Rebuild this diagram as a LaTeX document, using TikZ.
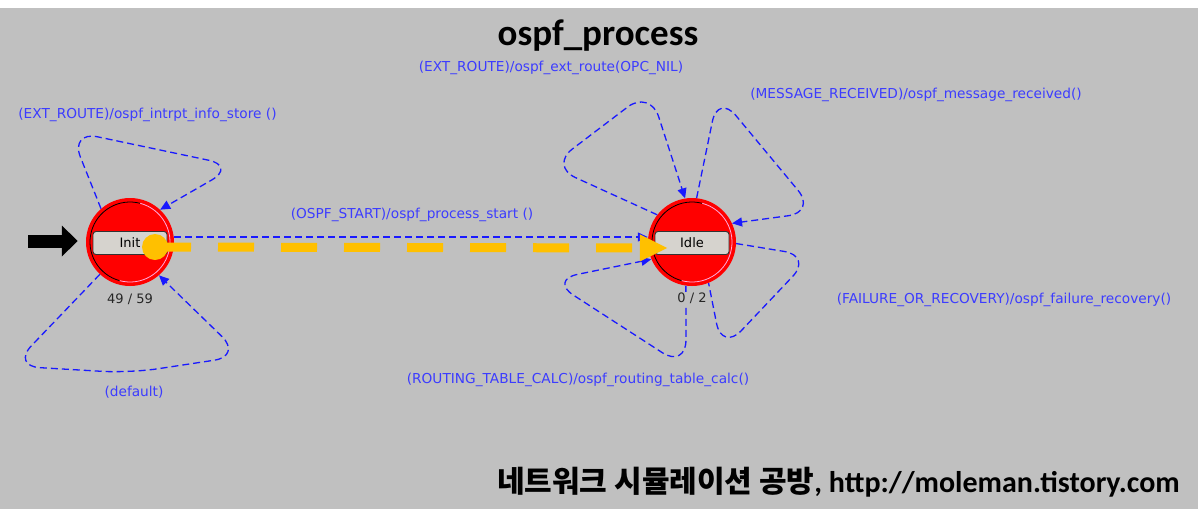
\documentclass[tikz,border=0pt]{standalone}
\usepackage{fontspec}
\setmainfont{DejaVu Sans}
\newfontfamily\carl{Carlito}
\newfontfamily\kr{Noto Sans CJK KR}
\usetikzlibrary{arrows.meta}
\definecolor{bg}{RGB}{192,192,192}
\definecolor{lblue}{RGB}{60,60,255}
\definecolor{tblue}{RGB}{25,25,255}
\definecolor{gold}{RGB}{255,192,0}
\definecolor{boxfill}{RGB}{214,211,206}
\definecolor{rimpink}{RGB}{255,170,220}
\begin{document}
\begin{tikzpicture}[x=1pt,y=-1pt,
  fsmstate/.style={circle,fill=red,minimum size=88pt,inner sep=0pt},
  namebox/.style={rectangle,rounded corners=3pt,draw=black!80,line width=0.9pt,fill=boxfill,minimum width=74pt,minimum height=23pt,inner sep=0pt,font=\fontsize{13}{15}\selectfont},
  countlbl/.style={font=\fontsize{13}{15}\selectfont,text=black!85},
  trans/.style={draw=tblue,line width=1.3pt,dash pattern=on 7pt off 4pt,rounded corners=28pt,-{Triangle[length=10pt,width=9pt]}},
  transnoarrow/.style={draw=tblue,line width=1.3pt,dash pattern=on 7pt off 4pt,rounded corners=28pt},
  tlbl/.style={text=lblue,font=\fontsize{13.7}{15}\selectfont,inner sep=0pt}
]
\useasboundingbox (0,0) rectangle (1198,517);
\fill[white] (0,0) rectangle (1198,517);
\fill[bg] (0,8) rectangle (1198,509);

% states
\node[fsmstate] (init) at (130,242) {};
\node[fsmstate] (idle) at (692,242) {};
\foreach \s in {init,idle}{
  \draw[black,line width=0.8pt] ([shift={(75:40pt)}]\s.center) arc[start angle=75,end angle=255,radius=40pt];
  \draw[rimpink,line width=0.8pt] ([shift={(255:40pt)}]\s.center) arc[start angle=255,end angle=435,radius=40pt];
}
\node[namebox] (initbox) at (130,243) {Init};
\node[namebox] (idlebox) at (692,243) {Idle};
\node[countlbl] (initcnt) at (130,299) {49 / 59};

% start arrow
\coordinate (startpt) at (28,241);
\draw[black,line width=13pt,-{Triangle[length=16pt,width=30pt]}] (startpt) -- ([xshift=-8pt,yshift=1pt]init.west);

% loops on Init
\draw[trans] (init.131) -- (70,131) -- (236,166) -- (init.47);
\draw[trans] (init.227) -- (12,366) -- (130,373) -- (242,356) -- (init.311);

% loops on Idle
\draw[trans] (idle.142) -- (550,166) -- (650,90) -- (idle.99);
\draw[trans] (idle.84) -- (718,94) -- (816,212) -- (idle.25);
\draw[transnoarrow] (idle.-2) -- (812,256) -- (722,351) -- (idle.-68);
\draw[trans] (idle.-98) -- (686,368) -- (550,280) -- (idle.203);

% straight transition
\draw[trans] ([yshift=5pt]init.east) -- ([yshift=5pt]idle.west);

% yellow default path
\coordinate (ydot) at (155,247);
\draw[gold,line width=9pt,dash pattern=on 36pt off 27pt,-{Triangle[length=28pt,width=25pt]}] (ydot) -- ([xshift=20pt,yshift=-6pt]idle.west);
\fill[gold] (ydot) circle[radius=13pt];

\node[countlbl,fill=bg,inner sep=1pt] (idlecnt) at (692,298) {0 / 2};

% labels
\node[tlbl] (l1) at (147.5,115) {(EXT\_ROUTE)/ospf\_intrpt\_info\_store ()};
\node[tlbl] (l2) at (134,392) {(default)};
\node[tlbl] (l3) at (412,215) {(OSPF\_START)/ospf\_process\_start ()};
\node[tlbl] (l4) at (551,68) {(EXT\_ROUTE)/ospf\_ext\_route(OPC\_NIL)};
\node[tlbl] (l5) at (916,95) {(MESSAGE\_RECEIVED)/ospf\_message\_received()};
\node[tlbl] (l6) at (1004,300) {(FAILURE\_OR\_RECOVERY)/ospf\_failure\_recovery()};
\node[tlbl] (l7) at (578,380) {(ROUTING\_TABLE\_CALC)/ospf\_routing\_table\_calc()};

% title and footer
\node[font=\carl\bfseries\fontsize{37}{40}\selectfont,inner sep=0pt] (title) at (598,36) {ospf\_process};
\node[anchor=east,inner sep=0pt] (footer) at (1180,482) {{\kr\bfseries\fontsize{30}{33}\selectfont 네트워크 시뮬레이션 공방}{\carl\bfseries\fontsize{30}{33}\selectfont, http://moleman.tistory.com}};
\end{tikzpicture}
\end{document}
